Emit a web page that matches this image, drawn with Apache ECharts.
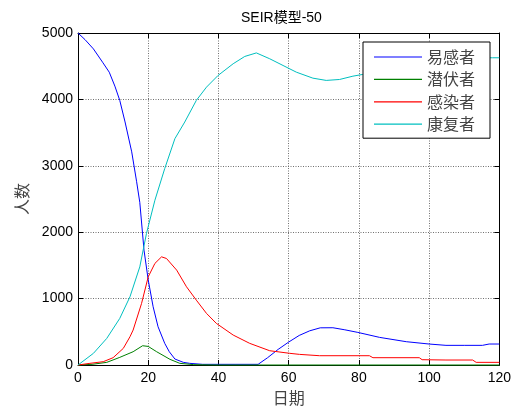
<!DOCTYPE html>
<html>
<head>
<meta charset="utf-8">
<script src="https://cdn.jsdelivr.net/npm/echarts@6/dist/echarts.min.js"></script>
<style>html,body{margin:0;padding:0;background:#fff}#c{width:514px;height:412px}</style>
</head>
<body>
<div id="c"></div>
<script>
const titleText = 'SEIR模型-50';
const seriesNames = ['易感者', '潜伏者', '感染者', '康复者'];
const xTicks = [0, 20, 40, 60, 80, 100, 120];
const yTicks = [0, 1000, 2000, 3000, 4000, 5000];

const sDays = [0, 2, 4.4, 7, 8.9, 10.5, 11.9, 13.4, 15.3, 16.7, 17.6, 18.8, 20, 21.4, 22.8, 24.7, 26, 27.6, 30, 31.8, 35.5, 40, 45, 51.3, 54, 57, 60, 63, 66, 69, 72.6, 76, 79.7, 85.9, 93.5, 100, 104.8, 110, 115.2, 117.1, 120];
const sVals = [5000, 4900, 4760, 4560, 4410, 4200, 3985, 3660, 3210, 2760, 2450, 1730, 1280, 877, 576, 326, 200, 90, 40, 25, 10, 10, 10, 10, 110, 235, 345, 445, 515, 560, 561, 530, 491, 416, 351, 316, 296, 296, 296, 316, 316];

const eDays = [0, 4, 8.2, 11.9, 15.7, 18.4, 20, 22.4, 26.2, 29, 33, 40, 120];
const eVals = [0, 10, 40, 115, 200, 290, 280, 200, 85, 25, 5, 0, 0];

const iDays = [0, 3.4, 7.2, 10, 12.9, 14.8, 15.7, 18.1, 20, 21.9, 23.8, 25.2, 28.1, 30.9, 33.7, 36.6, 39.4, 44.2, 48.9, 54.6, 60.3, 63.1, 68.8, 83, 84, 97.2, 98, 104.8, 112.4, 113.4, 120];
const iVals = [0, 25, 50, 110, 250, 425, 526, 927, 1328, 1530, 1629, 1604, 1429, 1178, 977, 777, 627, 451, 326, 215, 176, 160, 140, 140, 110, 110, 80, 75, 75, 40, 40];

const rDays = [0, 4.4, 8.2, 11.9, 14.8, 17.6, 19.5, 21.9, 24.7, 27.6, 30.4, 33.7, 36.6, 39.9, 44.2, 47.5, 50.8, 54.6, 58.4, 62.2, 66.9, 70.7, 74.5, 78.3, 81.1, 85, 90, 95, 100, 105, 110, 115, 118, 120];
const rVals = [0, 176, 401, 702, 1027, 1478, 1980, 2481, 2958, 3409, 3659, 3985, 4185, 4361, 4537, 4647, 4700, 4612, 4511, 4410, 4320, 4286, 4300, 4350, 4376, 4440, 4500, 4545, 4574, 4610, 4627, 4627, 4627, 4627];

const colors = ['#0000ff', '#008000', '#ff0000', '#00bfbf'];
const pairs = (d, v) => d.map((x, i) => [x, v[i]]);
const allData = [pairs(sDays, sVals), pairs(eDays, eVals), pairs(iDays, iVals), pairs(rDays, rVals)];

const fontLatin = '"Liberation Sans", Arial, "Noto Sans CJK SC", sans-serif';
const fontCJK = '"Noto Sans CJK SC", sans-serif';

const gridLine = { show: true, lineStyle: { color: '#707070', type: [1, 1.5], width: 1 } };
const frameLine = { show: true, onZero: false, lineStyle: { color: '#000', width: 1 } };

const chart = echarts.init(document.getElementById('c'), null, { renderer: 'canvas' });
chart.setOption({
  animation: false,
  backgroundColor: '#fff',
  title: {
    text: titleText, left: 236, top: 6,
    textStyle: { fontFamily: fontLatin, fontSize: 14, fontWeight: 'normal', color: '#000' }
  },
  grid: { left: 78, right: 14, top: 33, bottom: 47, containLabel: false },
  legend: {
    data: seriesNames.map(n => ({ name: n, icon: 'rect' })),
    orient: 'vertical',
    left: 363, top: 42,
    padding: [5, 15, 4, 11],
    itemWidth: 48, itemHeight: 1.2, itemGap: 2.4,
    backgroundColor: '#fff',
    borderColor: '#000', borderWidth: 1,
    textStyle: { fontFamily: fontCJK, fontSize: 16, color: '#444', lineHeight: 20 }
  },
  xAxis: [
    {
      type: 'value', min: 0, max: 120, interval: 20, position: 'bottom',
      name: '日期', nameLocation: 'middle', nameGap: 24,
      nameTextStyle: { fontFamily: fontCJK, fontSize: 16, color: '#444' },
      axisLine: frameLine,
      axisTick: { show: true, inside: true, length: 5, lineStyle: { color: '#000' } },
      axisLabel: { fontFamily: fontLatin, fontSize: 14, color: '#000', margin: 6, formatter: v => String(v) },
      splitLine: gridLine
    },
    {
      type: 'value', min: 0, max: 120, interval: 20, position: 'top',
      axisLine: frameLine,
      axisTick: { show: true, inside: true, length: 5, lineStyle: { color: '#000' } },
      axisLabel: { show: false }, splitLine: { show: false }
    }
  ],
  yAxis: [
    {
      type: 'value', min: 0, max: 5000, interval: 1000, position: 'left',
      name: '人数', nameLocation: 'middle', nameGap: 48, nameRotate: 90,
      nameTextStyle: { fontFamily: fontCJK, fontSize: 16, color: '#444' },
      axisLine: frameLine,
      axisTick: { show: true, inside: true, length: 5, lineStyle: { color: '#000' } },
      axisLabel: { fontFamily: fontLatin, fontSize: 14, color: '#000', margin: 5, formatter: v => String(v) },
      splitLine: gridLine
    },
    {
      type: 'value', min: 0, max: 5000, interval: 1000, position: 'right',
      axisLine: frameLine,
      axisTick: { show: true, inside: true, length: 5, lineStyle: { color: '#000' } },
      axisLabel: { show: false }, splitLine: { show: false }
    }
  ],
  series: seriesNames.map((n, k) => ({
    name: n, type: 'line', data: allData[k], symbol: 'none', clip: false,
    lineStyle: { color: colors[k], width: 1 }, itemStyle: { color: colors[k] },
    xAxisIndex: 0, yAxisIndex: 0, z: 3
  }))
});
</script>
</body>
</html>
